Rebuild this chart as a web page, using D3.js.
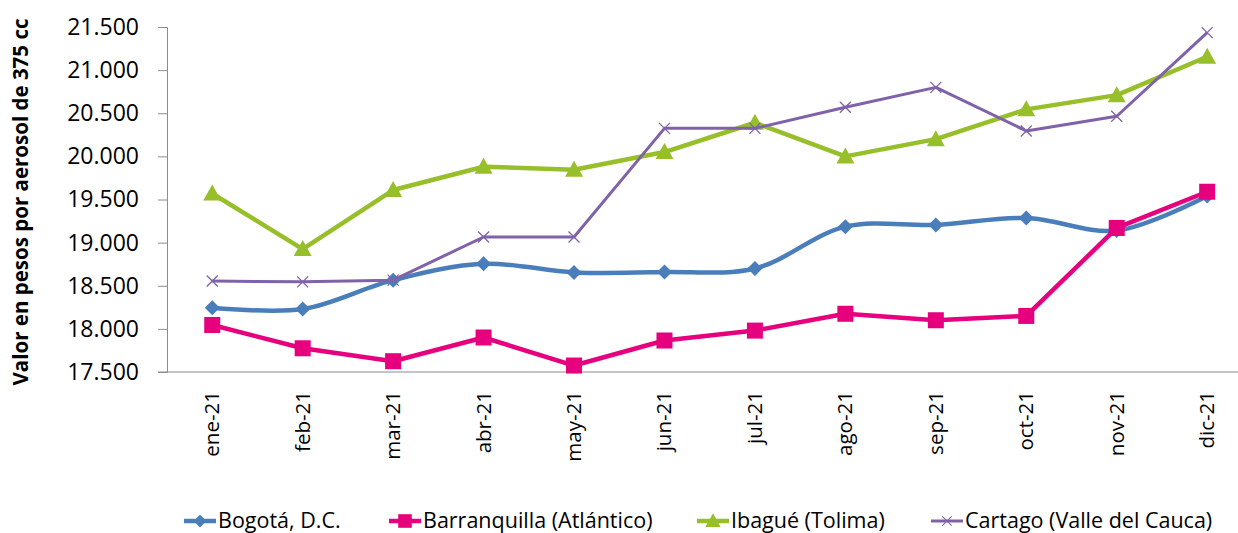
<!DOCTYPE html>
<html>
<head>
<meta charset="utf-8">
<script src="https://cdn.jsdelivr.net/npm/d3@7"></script>
<style>
  body { margin: 0; background: #fff; }
  svg text { font-family: "Open Sans", "Noto Sans", sans-serif; fill: #000; }
</style>
</head>
<body>
<div id="chart"></div>
<script>
// months
const months = ['ene-21','feb-21','mar-21','abr-21','may-21','jun-21','jul-21','ago-21','sep-21','oct-21','nov-21','dic-21'];

// series values (pesos)
const bogota = [18245, 18230, 18565, 18755, 18655, 18660, 18700, 19185, 19205, 19285, 19140, 19540];
const barranquilla = [18045, 17775, 17625, 17900, 17575, 17865, 17980, 18175, 18100, 18150, 19170, 19590];
const ibague = [19570, 18925, 19610, 19880, 19845, 20050, 20390, 20000, 20200, 20545, 20710, 21155];
const cartago = [18555, 18545, 18565, 19065, 19065, 20325, 20325, 20570, 20800, 20295, 20465, 21435];

const yTicks = [17500, 18000, 18500, 19000, 19500, 20000, 20500, 21000, 21500];

const series = [
  {name: 'Bogotá, D.C.', values: bogota, color: '#4a7ebb', marker: 'diamond', smooth: true, width: 4.5},
  {name: 'Barranquilla (Atlántico)', values: barranquilla, color: '#e6007e', marker: 'square', smooth: false, width: 4.5},
  {name: 'Ibagué (Tolima)', values: ibague, color: '#97bf2a', marker: 'triangle', smooth: false, width: 4.5},
  {name: 'Cartago (Valle del Cauca)', values: cartago, color: '#7f62a8', marker: 'cross', smooth: false, width: 3}
];

const W = 1238, H = 533;
const svg = d3.select('#chart').append('svg')
  .attr('width', W).attr('height', H);

// plot area
const plotLeft = 167, plotTop = 27, plotBottom = 372;
const step = 90.45;

const x = d3.scalePoint()
  .domain(months)
  .range([plotLeft + step / 2, plotLeft + step * 11.5]);

const y = d3.scaleLinear()
  .domain([17500, 21500])
  .range([plotBottom, plotTop]);

// y axis
const yAxis = svg.append('g')
  .attr('transform', 'translate(' + plotLeft + ',0)')
  .call(d3.axisLeft(y).tickValues(yTicks).tickSize(9).tickPadding(19)
    .tickFormat(d => d3.format(',')(d).replace(',', '.')));
yAxis.selectAll('line').attr('stroke', '#8c8c8c');
yAxis.select('.domain').attr('stroke', '#8c8c8c');
yAxis.selectAll('text').style('font-size', '23px').attr('font-family', null);

// x axis line (no ticks)
svg.append('line')
  .attr('x1', plotLeft - 9).attr('x2', W)
  .attr('y1', plotBottom).attr('y2', plotBottom)
  .attr('stroke', '#8c8c8c');

// x labels
svg.append('g').selectAll('text')
  .data(months)
  .enter().append('text')
  .attr('transform', d => 'translate(' + (x(d) + 7) + ',' + (plotBottom + 19) + ') rotate(-90)')
  .attr('text-anchor', 'end')
  .style('font-size', '20.5px')
  .text(d => d);

// y title
svg.append('text')
  .attr('transform', 'translate(28,' + 202 + ') rotate(-90)')
  .attr('text-anchor', 'middle')
  .style('font-size', '20.5px')
  .style('font-weight', 'bold')
  .text('Valor en pesos por aerosol de 375 cc');

function drawMarker(g, type, color) {
  if (type === 'diamond') {
    g.append('path').attr('d', 'M0,-7.5L7.5,0L0,7.5L-7.5,0Z').attr('fill', color);
  } else if (type === 'square') {
    g.append('rect').attr('x', -8).attr('y', -8).attr('width', 16).attr('height', 16).attr('fill', color);
  } else if (type === 'triangle') {
    g.append('path').attr('d', 'M0,-9L9,7L-9,7Z').attr('fill', color);
  } else {
    g.append('path').attr('d', 'M-5.5,-5.5L5.5,5.5M-5.5,5.5L5.5,-5.5').attr('stroke', color).attr('stroke-width', 1.3).attr('fill', 'none');
  }
}

const lines = svg.append('g');
series.forEach(s => {
  const line = d3.line()
    .x((d, i) => x(months[i]))
    .y(d => y(d))
    .curve(s.smooth ? d3.curveCatmullRom.alpha(0.5) : d3.curveLinear);
  lines.append('path')
    .datum(s.values)
    .attr('d', line)
    .attr('fill', 'none')
    .attr('stroke', s.color)
    .attr('stroke-width', s.width)
    .attr('stroke-linejoin', 'round');
  s.values.forEach((v, i) => {
    const g = lines.append('g').attr('transform', 'translate(' + x(months[i]) + ',' + y(v) + ')');
    drawMarker(g, s.marker, s.color);
  });
});

// legend
const legendX = [184, 389, 697, 931];
const legend = svg.append('g');
series.forEach((s, i) => {
  const g = legend.append('g').attr('transform', 'translate(' + legendX[i] + ',521)');
  g.append('line').attr('x1', 0).attr('x2', 32).attr('y1', 0).attr('y2', 0)
    .attr('stroke', s.color).attr('stroke-width', s.width);
  const m = g.append('g').attr('transform', 'translate(16,0) scale(0.85)');
  drawMarker(m, s.marker, s.color);
  g.append('text').attr('x', 34).attr('y', 7)
    .style('font-size', '21.5px')
    .text(s.name);
});
</script>
</body>
</html>
